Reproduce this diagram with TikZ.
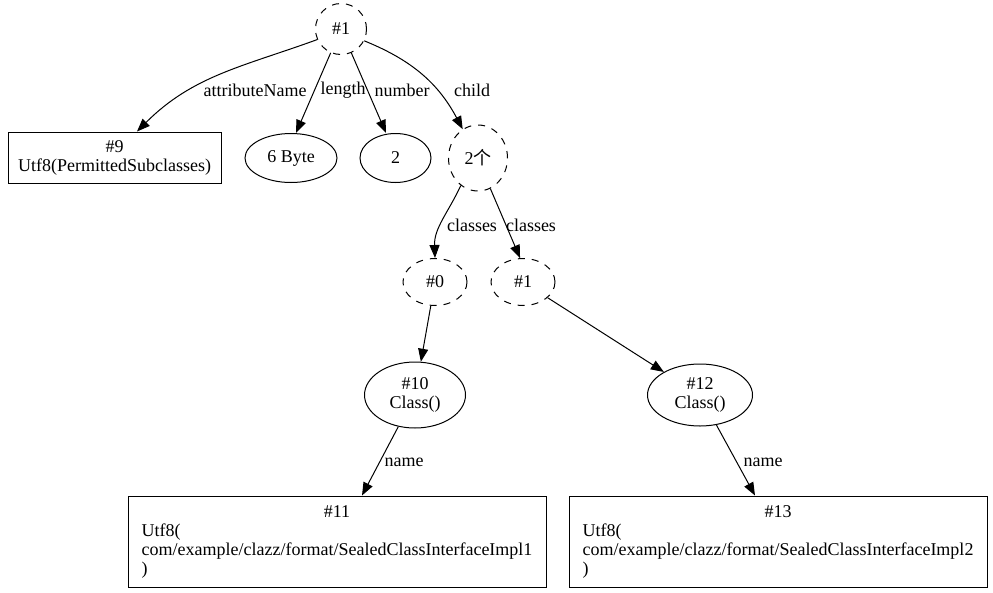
\documentclass[tikz,border=0pt]{standalone}
\usepackage{fontspec}
\setmainfont{Liberation Serif}
\newfontfamily\cjk{Noto Sans CJK SC}
\usetikzlibrary{arrows.meta,shapes.geometric}
\tikzset{
  every node/.style={font=\fontsize{18}{20}\selectfont, inner sep=0pt},
  dnode/.style={draw, dash pattern=on 7pt off 7pt, ellipse, line width=1pt},
  enode/.style={draw, ellipse, line width=1pt},
  bnode/.style={draw, rectangle, line width=1pt},
  lbl/.style={anchor=center},
  edge/.style={line width=1pt, -{Triangle[length=13pt,width=10pt]}},
}
\begin{document}
\begin{tikzpicture}[x=1pt,y=-1pt]
\useasboundingbox (0,0) rectangle (993,592);
\node[dnode, minimum width=51pt, minimum height=51pt] (n1) at (341,29) {\#1};
\node[bnode, minimum width=213pt, minimum height=51pt] (n9) at (114.5,157.5) {\begin{tabular}{@{}c@{}}\#9\\[-1pt]Utf8(PermittedSubclasses)\end{tabular}};
\node[enode, minimum width=92pt, minimum height=49pt] (nlen) at (291,158) {6 Byte};
\node[enode, minimum width=71pt, minimum height=49pt] (nnum) at (395.5,158) {2};
\node[dnode, minimum width=59pt, minimum height=66pt] (nch) at (478,158) {2{\cjk 个}};
\node[dnode, minimum width=64pt, minimum height=47pt] (n0) at (435,282) {\#0};
\node[dnode, minimum width=64pt, minimum height=47pt] (n1b) at (523,282) {\#1};
\node[enode, minimum width=101pt, minimum height=66pt] (n10) at (415,395) {\begin{tabular}{@{}c@{}}\#10\\[-1pt]Class()\end{tabular}};
\node[enode, minimum width=105pt, minimum height=62pt] (n12) at (700,395) {\begin{tabular}{@{}c@{}}\#12\\[-1pt]Class()\end{tabular}};
\node[bnode, minimum width=418pt, minimum height=91pt] (n11) at (337,541.5) {\begin{tabular}{@{}l@{}}\multicolumn{1}{@{}c@{}}{\#11}\\[-1pt]Utf8(\\[-1pt]com/example/clazz/format/SealedClassInterfaceImpl1\\[-1pt])\end{tabular}};
\node[bnode, minimum width=418pt, minimum height=91pt] (n13) at (778,541.5) {\begin{tabular}{@{}l@{}}\multicolumn{1}{@{}c@{}}{\#13}\\[-1pt]Utf8(\\[-1pt]com/example/clazz/format/SealedClassInterfaceImpl2\\[-1pt])\end{tabular}};
% labels
\node[lbl] (l1) at (255,90) {attributeName};
\node[lbl] (l2) at (343,90) {length};
\node[lbl] (l3) at (402,90) {number};
\node[lbl] (l4) at (472,90) {child};
\node[lbl] (l5) at (472,225) {classes};
\node[lbl] (l6) at (531,225) {classes};
\node[lbl] (l7) at (404,462) {name};
\node[lbl] (l8) at (763,462) {name};
% edges
\draw[edge] (n1.204) to[out=200,in=45] (n9.north -| 137,0);
\draw[edge] (n1) -- (nlen.north -| 296,0);
\draw[edge] (n1) -- (nnum.north -| 386,0);
\draw[edge] (n1.-27) to[out=-22,in=118] (nch.118);
\draw[edge] (nch.238) to[out=245,in=92] (n0.north);
\draw[edge] (nch.292) -- (n1b.97);
\draw[edge] (n0) -- (n10);
\draw[edge] (n1b) -- (n12);
\draw[edge] (n10) -- (n11.north -| 362,0);
\draw[edge] (n12) -- (n13.north -| 755,0);
\end{tikzpicture}
\end{document}
